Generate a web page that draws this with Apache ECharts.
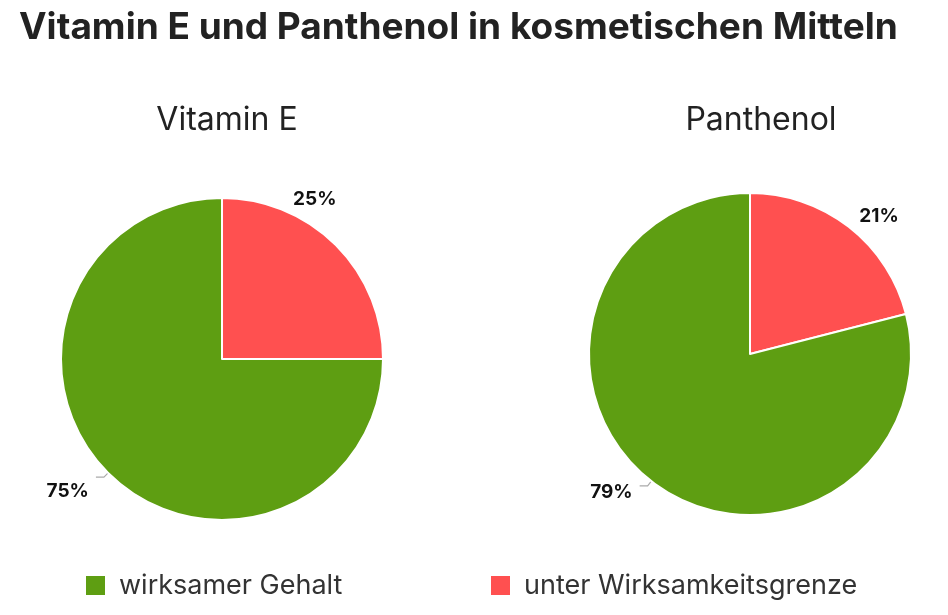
<!DOCTYPE html>
<html>
<head>
<meta charset="utf-8">
<script src="https://cdn.jsdelivr.net/npm/echarts@6/dist/echarts.min.js"></script>
<style>
  html, body { margin: 0; padding: 0; background: #fff; }
  #chart { width: 948px; height: 615px; }
</style>
</head>
<body>
<div id="chart"></div>
<script>
// Kategorien / Daten
var categories = ['unter Wirksamkeitsgrenze', 'wirksamer Gehalt'];
var legendOrder = ['wirksamer Gehalt', 'unter Wirksamkeitsgrenze'];
var vitaminE = [25, 75];
var panthenol = [21, 79];
var colors = ['#ff5050', '#5e9e12'];

var FONT = 'Inter';

// Beschriftungen etwas verschieben (wie im Original)
var labelShift = [
    [[-60, -42], [-2, 14]],
    [[-6, -6], [-2, 6]]
];

function pieData(vals) {
    var arr = [];
    for (var i = 0; i < categories.length; i++) {
        arr.push({
            name: categories[i],
            value: vals[i],
            itemStyle: { color: colors[i] },
            labelLine: { show: i == 1 }
        });
    }
    return arr;
}

function pieSeries(name, center, vals) {
    return {
        type: 'pie',
        name: name,
        center: center,
        radius: 161,
        startAngle: 90,
        clockwise: true,
        animation: false,
        silent: true,
        itemStyle: { borderColor: '#fff', borderWidth: 2 },
        label: {
            show: true,
            position: 'outside',
            formatter: '{c}%',
            fontFamily: FONT,
            fontSize: 19,
            fontWeight: 'bold',
            color: '#111'
        },
        labelLine: {
            length: 6,
            length2: 8,
            lineStyle: { color: '#aaa', width: 1.2 }
        },
        labelLayout: function (params) {
            var s = labelShift[params.seriesIndex][params.dataIndex];
            return { dx: s[0], dy: s[1] };
        },
        data: pieData(vals)
    };
}

var myChart = echarts.init(document.getElementById('chart'));

myChart.setOption({
    backgroundColor: '#fff',
    title: [{
        text: 'Vitamin E und Panthenol in kosmetischen Mitteln',
        left: 14,
        top: 4,
        textStyle: { fontFamily: FONT, fontSize: 37, fontWeight: 'bold', color: '#222' }
    }, {
        text: 'Vitamin E',
        left: 222,
        top: 99,
        textAlign: 'center',
        textStyle: { fontFamily: FONT, fontSize: 32, fontWeight: 'normal', color: '#222' }
    }, {
        text: 'Panthenol',
        left: 756,
        top: 99,
        textAlign: 'center',
        textStyle: { fontFamily: FONT, fontSize: 32, fontWeight: 'normal', color: '#222' }
    }],
    legend: [{
        data: [legendOrder[0]],
        left: 79,
        top: 567,
        itemWidth: 21,
        itemHeight: 21,
        icon: 'rect',
        textStyle: { fontFamily: FONT, fontSize: 27, color: '#333', padding: [0, 0, 0, 8] }
    }, {
        data: [legendOrder[1]],
        left: 484,
        top: 567,
        itemWidth: 21,
        itemHeight: 21,
        icon: 'rect',
        textStyle: { fontFamily: FONT, fontSize: 27, color: '#333', padding: [0, 0, 0, 8] }
    }],
    series: [
        pieSeries('Vitamin E', [222, 359], vitaminE),
        pieSeries('Panthenol', [750, 354], panthenol)
    ]
});
</script>
</body>
</html>
